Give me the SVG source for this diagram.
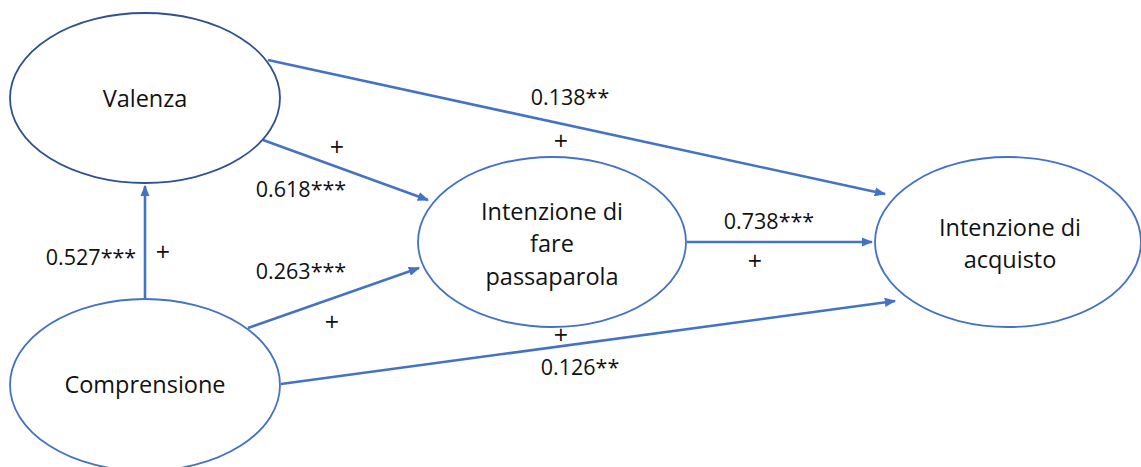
<svg xmlns="http://www.w3.org/2000/svg" width="1141" height="467" viewBox="0 0 1141 467">
<style>
.node{fill:#fff;stroke:#4472C4;stroke-width:1.8}
.dark{stroke:#2F528F}
.lbl{font-family:"Open Sans","Liberation Sans",sans-serif;font-size:23.5px;fill:#111;text-anchor:middle}
.num{font-family:"Open Sans","Liberation Sans",sans-serif;font-size:21.5px;fill:#111;text-anchor:middle}
.pl{font-family:"Open Sans","Liberation Sans",sans-serif;font-size:25px;fill:#111;text-anchor:middle}
.edge{stroke:#4472C4;stroke-width:2.6;fill:none;marker-end:url(#ah)}
</style>
<defs>
<marker id="ah" viewBox="0 0 10 8" refX="9" refY="4" markerWidth="4.4" markerHeight="3.5" orient="auto" markerUnits="strokeWidth">
<path d="M0,0 L10,4 L0,8 z" fill="#4472C4"/>
</marker>
</defs>
<g id="connectors">
<line class="edge" x1="268" y1="60" x2="885" y2="194"/>
<line class="edge" x1="263" y1="140" x2="428" y2="200"/>
<line class="edge" x1="248" y1="328" x2="419" y2="268"/>
<line class="edge" x1="281" y1="384" x2="895" y2="301"/>
<line class="edge" x1="687" y1="242" x2="872" y2="242"/>
<line class="edge" x1="145" y1="299" x2="145" y2="186"/>
</g>
<g id="valenza"><ellipse class="node dark" cx="145" cy="98" rx="135" ry="85"/><text class="lbl" x="145" y="107">Valenza</text></g>
<g id="comprensione"><ellipse class="node" cx="145" cy="385" rx="135" ry="86"/><text class="lbl" x="145" y="393">Comprensione</text></g>
<g id="passaparola"><ellipse class="node" cx="552" cy="242" rx="134" ry="85"/><text class="lbl" x="552" y="220">Intenzione di</text><text class="lbl" x="552" y="252">fare</text><text class="lbl" x="552" y="285">passaparola</text></g>
<g id="acquisto"><ellipse class="node" cx="1008" cy="242" rx="133" ry="85"/><text class="lbl" x="1010" y="236">Intenzione di</text><text class="lbl" x="1010" y="268">acquisto</text></g>
<g id="labels">
<text class="num" x="570" y="105">0.138**</text>
<text class="pl" x="561" y="150">+</text>
<text class="pl" x="337" y="156">+</text>
<text class="num" x="301" y="197">0.618***</text>
<text class="num" x="91" y="265">0.527***</text>
<text class="pl" x="163" y="261">+</text>
<text class="num" x="301" y="279">0.263***</text>
<text class="pl" x="332" y="331">+</text>
<text class="num" x="769" y="229">0.738***</text>
<text class="pl" x="755" y="270">+</text>
<text class="pl" x="561" y="344">+</text>
<text class="num" x="580" y="375">0.126**</text>
</g>
</svg>
